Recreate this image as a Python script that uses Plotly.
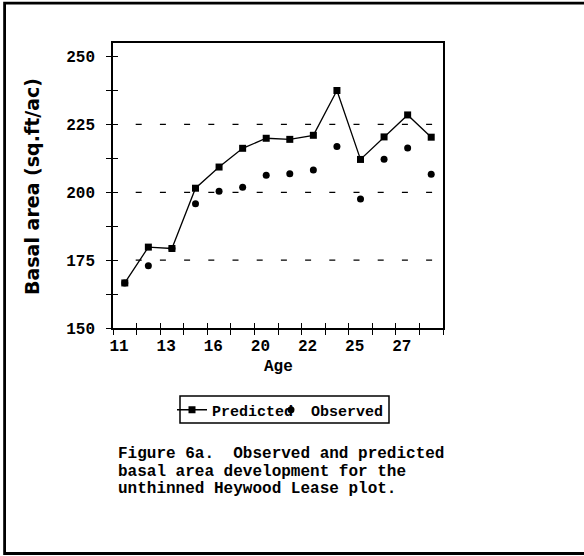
import plotly.graph_objects as go

# ---- data ----
measurement = list(range(1, 15))  # 14 successive measurements
predicted = [166.6, 179.8, 179.3, 201.5, 209.3, 216.2, 219.9, 219.5, 221.0, 237.5, 212.1, 220.4, 228.5, 220.3]
observed = [166.6, 172.9, 179.3, 195.8, 200.4, 201.9, 206.3, 206.8, 208.2, 216.9, 197.5, 212.2, 216.3, 206.6]
x_tick_vals = list(range(0, 15))
x_tick_text = ["11", "", "13", "", "16", "", "20", "", "22", "", "25", "", "27", "", ""]
y_tick_vals = [150, 175, 200, 225, 250]
y_minor_vals = [150, 162.5, 175, 187.5, 200, 212.5, 225, 237.5, 250]
grid_vals = [175, 200, 225]
caption = ["Figure 6a.  Observed and predicted",
           "basal area development for the",
           "unthinned Heywood Lease plot."]

xpos = [m - 0.5 for m in measurement]

MONO = dict(family="Liberation Mono, Courier New, monospace", size=16, color="black", weight="bold")


def px_x(p):
    return (p - 113) / 330


def px_y(p):
    return (328 - p) / 285


fig = go.Figure()
fig.add_trace(go.Scatter(x=xpos, y=predicted, mode="lines+markers", name="Predicted",
                         line=dict(color="black", width=1.3), legend="legend",
                         marker=dict(symbol="square", size=7, color="black")))
fig.add_trace(go.Scatter(x=xpos, y=observed, mode="markers", name="Observed", legend="legend2",
                         marker=dict(symbol="circle", size=7, color="black")))
fig.add_trace(go.Scatter(x=[None], y=[None], xaxis="x2", yaxis="y2", showlegend=False, hoverinfo="skip"))

for g in grid_vals:
    fig.add_shape(type="line", xref="x", yref="y", x0=0.963, x1=13.56, y0=g, y1=g,
                  line=dict(color="black", width=1.3, dash="6px,18.2px"), layer="below")

# figure frame (right side runs off the page)
fig.add_shape(type="rect", xref="paper", yref="paper", x0=px_x(4.6), x1=px_x(640), y0=px_y(553.5), y1=px_y(3.2),
              line=dict(color="black", width=2.8), fillcolor="rgba(0,0,0,0)")
# legend box
fig.add_shape(type="rect", xref="paper", yref="paper", x0=px_x(180), x1=px_x(389), y0=px_y(423), y1=px_y(396),
              line=dict(color="black", width=1.5), fillcolor="rgba(0,0,0,0)")

LEGFONT = dict(**{**MONO, "size": 15})
fig.update_layout(
    width=584, height=556,
    margin=dict(l=113, r=141, t=43, b=228),
    paper_bgcolor="white", plot_bgcolor="white",
    showlegend=True,
    legend=dict(orientation="h", x=px_x(172), xanchor="left", y=px_y(410), yanchor="middle",
                borderwidth=0, font=LEGFONT, itemwidth=30, bgcolor="rgba(0,0,0,0)"),
    legend2=dict(orientation="h", x=px_x(271), xanchor="left", y=px_y(410), yanchor="middle",
                 borderwidth=0, font=LEGFONT, itemwidth=30, bgcolor="rgba(0,0,0,0)"),
    xaxis=dict(range=[0, 14], tickmode="array", tickvals=x_tick_vals, ticktext=x_tick_text,
               ticks="outside", ticklen=5, tickwidth=1.3, tickcolor="black",
               showline=True, linecolor="black", linewidth=1.5, mirror=True,
               showgrid=False, zeroline=False, tickfont=MONO, ticklabelshift=6,
               ticklabelstandoff=-3),
    yaxis=dict(range=[150, 255], tickmode="array", tickvals=y_minor_vals,
               ticktext=[("%g" % v) if v in y_tick_vals else "" for v in y_minor_vals],
               ticks="outside", ticklen=5, tickwidth=1.3, tickcolor="black",
               showline=True, linecolor="black", linewidth=1.5, mirror=True,
               showgrid=False, zeroline=False, tickfont=MONO, ticklabelstandoff=8),
    xaxis2=dict(overlaying="x", anchor="y", side="bottom", range=[0, 14], tickmode="array",
                tickvals=x_tick_vals, ticks="inside", ticklen=5, tickwidth=1.3, tickcolor="black",
                showticklabels=False, showline=False, showgrid=False, zeroline=False),
    yaxis2=dict(overlaying="y", anchor="x", side="left", range=[150, 255], tickmode="array",
                tickvals=y_minor_vals, ticks="inside", ticklen=5, tickwidth=1.3, tickcolor="black",
                showticklabels=False, showline=False, showgrid=False, zeroline=False),
)

fig.add_annotation(text="Age", xref="paper", yref="paper", x=0.5, y=-0.137, showarrow=False,
                   xanchor="center", yanchor="middle", font=MONO)
fig.add_annotation(text="Basal area (sq.ft/ac)", xref="paper", yref="paper", x=px_x(32), y=px_y(187),
                   textangle=-90, showarrow=False, xanchor="center", yanchor="middle",
                   font=dict(family="DejaVu Sans", size=19, color="black", weight="bold"))
for i, line in enumerate(caption):
    py = 454 + 17.5 * i
    fig.add_annotation(text=line, xref="paper", yref="paper", x=px_x(116), y=px_y(py),
                       showarrow=False, xanchor="left", yanchor="middle", font=MONO)

fig.write_html("out.html", config={"displayModeBar": False},
               post_script="document.body.style.margin='0';")
